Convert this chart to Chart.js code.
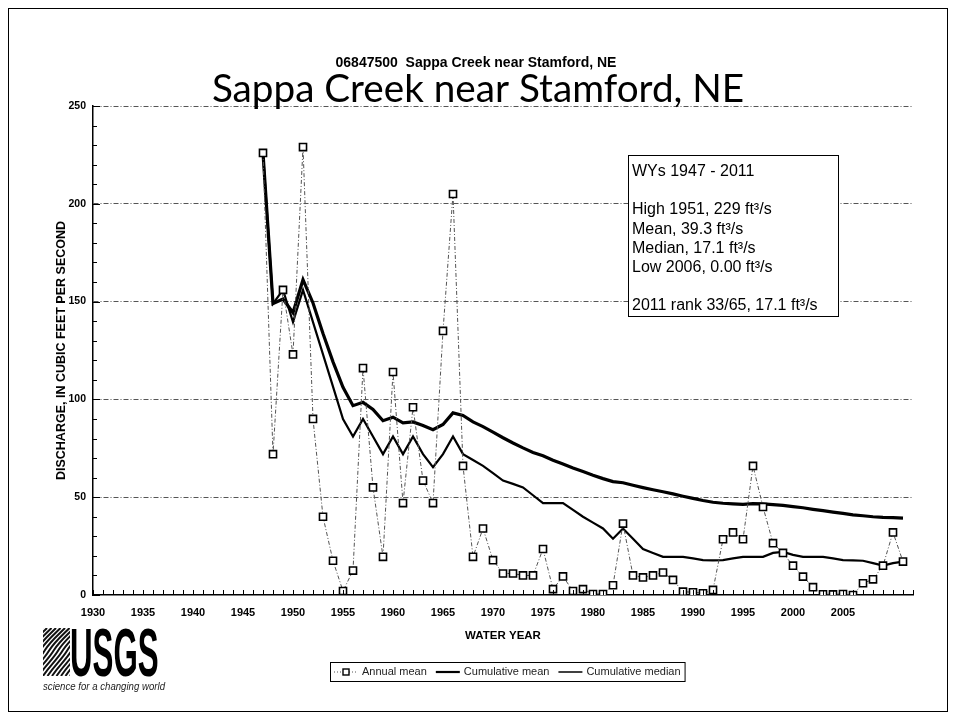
<!DOCTYPE html>
<html>
<head>
<meta charset="utf-8">
<title>Sappa Creek near Stamford, NE</title>
<script src="https://cdn.jsdelivr.net/npm/chart.js@4.4.1/dist/chart.umd.min.js"></script>
<style>
  html, body { margin: 0; padding: 0; background: #fff; }
  canvas { display: block; }
</style>
</head>
<body>
<canvas id="flow" width="956" height="721"></canvas>
<script>
// Water years 1947-2011, station 06847500
const years = [
  1947, 1948, 1949, 1950, 1951, 1952, 1953, 1954, 1955, 1956,
  1957, 1958, 1959, 1960, 1961, 1962, 1963, 1964, 1965, 1966,
  1967, 1968, 1969, 1970, 1971, 1972, 1973, 1974, 1975, 1976,
  1977, 1978, 1979, 1980, 1981, 1982, 1983, 1984, 1985, 1986,
  1987, 1988, 1989, 1990, 1991, 1992, 1993, 1994, 1995, 1996,
  1997, 1998, 1999, 2000, 2001, 2002, 2003, 2004, 2005, 2006,
  2007, 2008, 2009, 2010, 2011
];

// Annual mean discharge, ft3/s
const annualMean = [
  226, 72, 156, 123, 229, 90, 40, 17.5, 2, 12.5,
  116, 55, 19.5, 114, 47, 96, 58.5, 47, 135, 205,
  66, 19.5, 34, 17.8, 11, 11, 10, 10, 23.5, 3,
  9.5, 2, 3, 0.5, 0.5, 5, 36.5, 10, 9, 10,
  11.5, 7.7, 1.7, 1.4, 0.9, 2.6, 28.5, 32, 28.5, 66,
  45, 26.5, 21.5, 15, 9.4, 4, 0.4, 0.3, 0.5, 0,
  6, 8, 15, 32, 17.1
];

// Cumulative mean, ft3/s
const cumulativeMean = [
  226, 149, 151.3, 144.3, 161.2, 149.3, 133.7, 119.2, 106.2, 96.8,
  98.5, 94.9, 89.1, 90.9, 88.0, 88.5, 86.7, 84.5, 87.2, 93.1,
  91.8, 88.5, 86.1, 83.3, 80.4, 77.7, 75.2, 72.9, 71.2, 68.9,
  67.0, 64.9, 63.1, 61.2, 59.5, 58.0, 57.4, 56.1, 54.9, 53.8,
  52.8, 51.7, 50.5, 49.4, 48.3, 47.4, 46.9, 46.6, 46.3, 46.7,
  46.6, 46.2, 45.8, 45.2, 44.6, 43.8, 43.1, 42.4, 41.7, 41.0,
  40.5, 40.0, 39.7, 39.6, 39.3
];

// Cumulative median, ft3/s
const cumulativeMedian = [
  226, 149, 156, 139.5, 156, 139.5, 123, 106.5, 90, 81,
  90, 81, 72, 81, 72, 81, 72, 65.3, 72, 81,
  72, 69, 66, 62.3, 58.5, 56.8, 55, 51, 47, 47,
  47, 43.5, 40, 37, 34, 28.8, 34, 28.8, 23.5, 21.5,
  19.5, 19.5, 19.5, 18.7, 17.8, 17.7, 17.8, 18.7, 19.5, 19.5,
  19.5, 21.5, 22, 20.5, 19.5, 19.5, 19.5, 18.7, 17.8, 17.7,
  17.5, 16.3, 15, 16.3, 17.1
];

// Axis tick labels
const xTickLabels = [1930, 1935, 1940, 1945, 1950, 1955, 1960, 1965, 1970, 1975, 1980, 1985, 1990, 1995, 2000, 2005];
const yTickLabels = [0, 50, 100, 150, 200, 250];

// Summary statistics panel
const statsLines = [
  'WYs 1947 - 2011',
  '',
  'High 1951, 229 ft\u00b3/s',
  'Mean, 39.3 ft\u00b3/s',
  'Median, 17.1 ft\u00b3/s',
  'Low 2006, 0.00 ft\u00b3/s',
  '',
  '2011 rank 33/65, 17.1 ft\u00b3/s'
];

const legendLabels = ['Annual mean', 'Cumulative mean', 'Cumulative median'];

const SANS = '"Liberation Sans", Arial, sans-serif';

function toPoints(values) {
  return years.map((yr, i) => ({ x: yr, y: values[i] }));
}

// Page furniture: frame, titles, inner ticks, stats panel, legend and logo
const furniture = {
  id: 'furniture',
  beforeDraw(chart) {
    const ctx = chart.ctx;
    ctx.save();
    ctx.fillStyle = '#fff';
    ctx.fillRect(0, 0, chart.width, chart.height);
    ctx.restore();
  },
  afterDraw(chart) {
    const ctx = chart.ctx;
    const xs = chart.scales.x;
    const ys = chart.scales.y;
    const area = chart.chartArea;
    const ds = chart.data.datasets;
    ctx.save();

    // outer frame
    ctx.strokeStyle = '#000';
    ctx.lineWidth = 1;
    ctx.strokeRect(8.5, 8.5, 939, 703);

    // inner tick marks on both axes
    ctx.beginPath();
    for (let yr = Math.ceil(xs.min); yr <= xs.max; yr++) {
      const px = Math.round(xs.getPixelForValue(yr)) + 0.5;
      ctx.moveTo(px, area.bottom);
      ctx.lineTo(px, area.bottom - 5);
    }
    for (let v = 0; v <= ys.max; v += 10) {
      const py = Math.round(ys.getPixelForValue(v)) + 0.5;
      const len = v % 50 === 0 ? 7 : 4;
      ctx.moveTo(area.left, py);
      ctx.lineTo(area.left + len, py);
    }
    ctx.lineWidth = 1;
    ctx.strokeStyle = '#000';
    ctx.stroke();

    // titles
    ctx.fillStyle = '#000';
    ctx.textAlign = 'center';
    ctx.textBaseline = 'alphabetic';
    ctx.font = 'bold 14px ' + SANS;
    ctx.fillText('06847500  Sappa Creek near Stamford, NE', 476, 67);
    let size = 34;
    ctx.font = size + 'px Lato, "Open Sans", sans-serif';
    const w = ctx.measureText('Sappa Creek near Stamford, NE').width;
    size = size * 532 / w;
    ctx.font = size.toFixed(1) + 'px Lato, "Open Sans", sans-serif';
    ctx.fillText('Sappa Creek near Stamford, NE', 478, 102);

    // statistics panel
    const bx = 628, by = 155, bw = 210, bh = 161;
    ctx.fillStyle = '#fff';
    ctx.fillRect(bx, by, bw, bh);
    ctx.strokeStyle = '#000';
    ctx.lineWidth = 1;
    ctx.strokeRect(bx + 0.5, by + 0.5, bw, bh);
    ctx.fillStyle = '#000';
    ctx.textAlign = 'left';
    ctx.font = '16px ' + SANS;
    statsLines.forEach((t, i) => {
      if (t) ctx.fillText(t, bx + 4, by + 21 + i * 19.2);
    });

    // legend
    const lx = 330, ly = 662, lh = 19;
    const cy = ly + lh / 2 + 0.5;
    ctx.font = '11px ' + SANS;
    ctx.textBaseline = 'middle';
    const tw = legendLabels.map(t => ctx.measureText(t).width);
    const sample = 24;
    let x = lx + 4;
    const starts = [];
    for (let i = 0; i < 3; i++) {
      starts.push(x);
      x += sample + 4 + tw[i] + 9;
    }
    const lw = x - 9 + 4 - lx;
    ctx.strokeStyle = '#000';
    ctx.lineWidth = 1;
    ctx.strokeRect(lx + 0.5, ly + 0.5, lw, lh);
    // annual mean sample: dotted line with a square marker
    ctx.save();
    ctx.strokeStyle = ds[0].borderColor;
    ctx.setLineDash([1, 2]);
    ctx.beginPath();
    ctx.moveTo(starts[0], cy); ctx.lineTo(starts[0] + sample, cy);
    ctx.stroke();
    ctx.restore();
    ctx.fillStyle = '#fff';
    ctx.fillRect(starts[0] + 9, cy - 3, 6, 6);
    ctx.lineWidth = 1.4;
    ctx.strokeRect(starts[0] + 9, cy - 3, 6, 6);
    // cumulative samples
    ctx.lineWidth = 2.2;
    ctx.beginPath(); ctx.moveTo(starts[1], cy); ctx.lineTo(starts[1] + sample, cy); ctx.stroke();
    ctx.lineWidth = 1.5;
    ctx.beginPath(); ctx.moveTo(starts[2], cy); ctx.lineTo(starts[2] + sample, cy); ctx.stroke();
    ctx.fillStyle = '#222';
    legendLabels.forEach((t, i) => ctx.fillText(t, starts[i] + sample + 4, cy));

    // agency logo
    ctx.save();
    ctx.beginPath();
    ctx.rect(43, 628, 27, 48);
    ctx.clip();
    ctx.strokeStyle = '#111';
    ctx.lineWidth = 2;
    for (let k = -10; k < 12; k++) {
      ctx.beginPath();
      const ox = 43 + k * 4.5;
      ctx.moveTo(ox, 676);
      ctx.bezierCurveTo(ox + 8, 664, ox + 14, 660, ox + 20, 650);
      ctx.bezierCurveTo(ox + 25, 642, ox + 32, 636, ox + 40, 628);
      ctx.stroke();
    }
    ctx.restore();
    ctx.save();
    ctx.fillStyle = '#000';
    ctx.textBaseline = 'alphabetic';
    ctx.textAlign = 'left';
    ctx.translate(70, 676);
    ctx.scale(0.46, 1);
    ctx.font = 'bold 68px ' + SANS;
    ctx.fillText('USGS', 0, 0);
    ctx.restore();
    ctx.save();
    ctx.font = 'italic 10px ' + SANS;
    ctx.textBaseline = 'alphabetic';
    ctx.textAlign = 'left';
    ctx.translate(43, 690);
    const gw = ctx.measureText('science for a changing world').width;
    ctx.scale(122 / gw, 1);
    ctx.fillText('science for a changing world', 0, 0);
    ctx.restore();

    ctx.restore();
  }
};

new Chart(document.getElementById('flow').getContext('2d'), {
  type: 'line',
  data: {
    datasets: [
      {
        label: legendLabels[0],
        data: toPoints(annualMean),
        borderColor: '#555',
        borderWidth: 1,
        borderDash: [4, 2, 1, 2],
        pointStyle: 'rect',
        pointRadius: 5,
        pointBorderWidth: 1.6,
        pointBorderColor: '#000',
        pointBackgroundColor: '#fff',
        order: 0
      },
      {
        label: legendLabels[1],
        data: toPoints(cumulativeMean),
        borderColor: '#000',
        borderWidth: 3.2,
        pointRadius: 0,
        order: 1
      },
      {
        label: legendLabels[2],
        data: toPoints(cumulativeMedian),
        borderColor: '#000',
        borderWidth: 2.2,
        pointRadius: 0,
        order: 2
      }
    ]
  },
  options: {
    responsive: false,
    animation: false,
    devicePixelRatio: 1,
    layout: { padding: { top: 106, right: 43, bottom: 76, left: 0 } },
    elements: { line: { tension: 0 } },
    plugins: {
      legend: { display: false },
      tooltip: { enabled: false },
      title: { display: false }
    },
    scales: {
      x: {
        type: 'linear',
        min: 1930,
        max: 2012,
        afterFit(scale) { scale.height = 50; },
        afterBuildTicks(scale) { scale.ticks = xTickLabels.map(v => ({ value: v })); },
        ticks: {
          font: { family: SANS, size: 11, weight: 'bold' },
          color: '#000',
          padding: 11,
          maxRotation: 0,
          autoSkip: false,
          callback: v => String(v)
        },
        grid: { display: false, drawTicks: false },
        border: { display: true, color: '#000', width: 1.5 },
        title: {
          display: true,
          text: 'WATER YEAR',
          font: { family: SANS, size: 11.5, weight: 'bold' },
          color: '#000',
          padding: { top: 0, bottom: 2 }
        }
      },
      y: {
        min: 0,
        max: 250,
        afterFit(scale) { scale.width = 93; },
        afterBuildTicks(scale) { scale.ticks = yTickLabels.map(v => ({ value: v })); },
        ticks: {
          font: { family: SANS, size: 10.5, weight: 'bold' },
          color: '#000',
          padding: 7
        },
        grid: {
          drawTicks: false,
          lineWidth: 1,
          color: c => (c.tick && c.tick.value === 0) ? 'rgba(0,0,0,0)' : '#555'
        },
        border: { display: true, color: '#000', width: 1.5, dash: [5, 2, 1, 2] },
        title: {
          display: true,
          text: 'DISCHARGE, IN CUBIC FEET PER SECOND',
          font: { family: SANS, size: 12.5, weight: 'bold' },
          color: '#000',
          padding: { top: 54, bottom: 0 }
        }
      }
    }
  },
  plugins: [furniture]
});
</script>
</body>
</html>
